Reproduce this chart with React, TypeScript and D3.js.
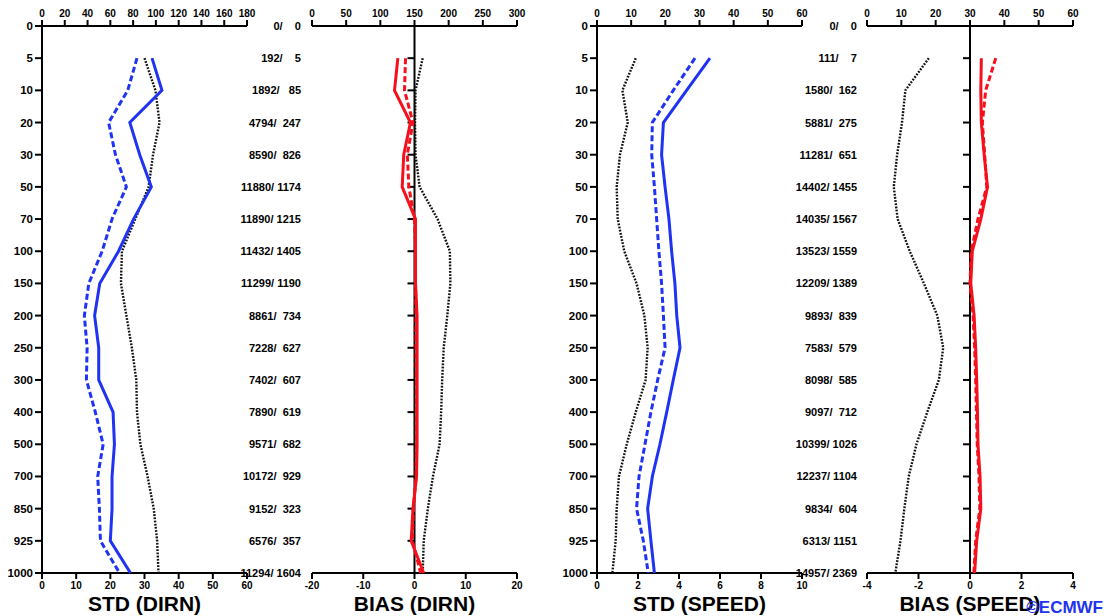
import React from "react";
import * as d3 from "d3";

// Pressure levels (hPa), evenly spaced on the vertical axis
const levels = ["0", "5", "10", "20", "30", "50", "70", "100", "150", "200", "250", "300", "400", "500", "700", "850", "925", "1000"];
const dataLevels = levels.slice(1);

// Direction statistics (degrees)
const stdDirnExp = [32.2, 35.1, 25.7, 28.6, 32.0, 26.8, 22.4, 16.9, 15.4, 16.6, 16.6, 20.8, 21.2, 20.5, 20.5, 20.0, 25.9];
const stdDirnCtl = [27.8, 25.1, 19.5, 21.5, 24.7, 20.5, 17.6, 13.7, 12.4, 13.2, 13.0, 15.6, 17.9, 16.3, 16.8, 17.1, 22.7];
const stdDirnRef = [30.0, 33.2, 34.4, 32.5, 31.2, 27.3, 23.4, 23.1, 24.7, 26.3, 27.6, 27.8, 28.8, 30.9, 32.7, 33.7, 34.1];
const biasDirnExp = [-3.25, -3.9, -0.8, -2.1, -2.4, 0.2, 0.2, 0.2, 0.5, 0.5, 0.5, 0.5, 0.5, 0.4, -0.3, -0.65, 1.8];
const biasDirnCtl = [-1.75, -1.95, -0.3, -1.4, -1.1, 0.0, 0.2, 0.2, 0.3, 0.3, 0.4, 0.4, 0.4, 0.3, -0.2, -0.4, 1.2];
const biasDirnRef = [1.6, 0.2, 0.1, 0.2, 1.0, 4.5, 6.9, 7.0, 6.4, 5.7, 5.4, 5.2, 4.9, 3.6, 2.6, 1.8, 1.6];

// Speed statistics (m/s)
const stdSpdExp = [5.51, 4.37, 3.24, 3.15, 3.32, 3.51, 3.64, 3.8, 3.89, 4.05, 3.72, 3.4, 3.07, 2.7, 2.47, 2.63, 2.8];
const stdSpdCtl = [4.78, 3.72, 2.7, 2.67, 2.8, 2.91, 3.02, 3.15, 3.24, 3.32, 2.96, 2.63, 2.34, 2.05, 1.93, 2.26, 2.5];
const stdSpdRef = [1.89, 1.24, 1.5, 1.12, 0.96, 1.01, 1.33, 1.93, 2.31, 2.47, 2.37, 1.89, 1.45, 1.07, 0.96, 0.91, 0.75];
const biasSpdExp = [0.44, 0.42, 0.44, 0.55, 0.68, 0.42, 0.09, 0.03, 0.16, 0.22, 0.26, 0.29, 0.31, 0.39, 0.42, 0.26, 0.18];
const biasSpdCtl = [1.0, 0.61, 0.48, 0.57, 0.65, 0.31, 0.05, 0.0, 0.12, 0.18, 0.22, 0.25, 0.28, 0.35, 0.38, 0.22, 0.15];
const biasSpdRef = [-1.6, -2.51, -2.64, -2.83, -2.96, -2.81, -2.34, -1.79, -1.27, -1.04, -1.21, -1.66, -2.08, -2.38, -2.55, -2.7, -2.9];

// Observation counts per level (total / used)
const obsDirn = [0, 192, 1892, 4794, 8590, 11880, 11890, 11432, 11299, 8861, 7228, 7402, 7890, 9571, 10172, 9152, 6576, 11294];
const usedDirn = [0, 5, 85, 247, 826, 1174, 1215, 1405, 1190, 734, 627, 607, 619, 682, 929, 323, 357, 1604];
const obsSpd = [0, 111, 1580, 5881, 11281, 14402, 14035, 13523, 12209, 9893, 7583, 8098, 9097, 10399, 12237, 9834, 6313, 14957];
const usedSpd = [0, 7, 162, 275, 651, 1455, 1567, 1559, 1389, 839, 579, 585, 712, 1026, 1104, 604, 1151, 2369];

// Tick labels
const topTicks1 = [0, 20, 40, 60, 80, 100, 120, 140, 160, 180];
const topTicks2 = [0, 50, 100, 150, 200, 250, 300];
const topTicks3 = [0, 10, 20, 30, 40, 50, 60];
const topTicks4 = [0, 10, 20, 30, 40, 50, 60];
const botTicks1 = [0, 10, 20, 30, 40, 50, 60];
const botTicks2 = [-20, -10, 0, 10, 20];
const botTicks3 = [0, 2, 4, 6, 8, 10];
const botTicks4 = [-4, -2, 0, 2, 4];

const titles = ["STD (DIRN)", "BIAS (DIRN)", "STD (SPEED)", "BIAS (SPEED)"];

const BLUE = "#1f33f2";
const RED = "#f5101c";
const FONT = "'Liberation Sans', Arial, sans-serif";

const Y_TOP = 26;
const Y_BOT = 573;

const y = d3.scalePoint<string>().domain(levels).range([Y_TOP, Y_BOT]);

type PanelDef = {
  x0: number;
  x1: number;
  top: d3.ScaleLinear<number, number>;
  bot: d3.ScaleLinear<number, number>;
  topTicks: number[];
  botTicks: number[];
  title: string;
  kind: "std" | "bias";
  exp: number[];
  ctl: number[];
  ref: number[];
};

function mkPanel(x0: number, x1: number, topDom: [number, number], botDom: [number, number], topTicks: number[], botTicks: number[], title: string, kind: "std" | "bias", exp: number[], ctl: number[], ref: number[]): PanelDef {
  return {
    x0, x1,
    top: d3.scaleLinear().domain(topDom).range([x0, x1]),
    bot: d3.scaleLinear().domain(botDom).range([x0, x1]),
    topTicks, botTicks, title, kind, exp, ctl, ref,
  };
}

const panels: PanelDef[] = [
  mkPanel(42, 247, [0, 180], [0, 60], topTicks1, botTicks1, titles[0], "std", stdDirnExp, stdDirnCtl, stdDirnRef),
  mkPanel(312, 517, [0, 300], [-20, 20], topTicks2, botTicks2, titles[1], "bias", biasDirnExp, biasDirnCtl, biasDirnRef),
  mkPanel(597, 802, [0, 60], [0, 10], topTicks3, botTicks3, titles[2], "std", stdSpdExp, stdSpdCtl, stdSpdRef),
  mkPanel(867, 1073, [0, 60], [-4, 4], topTicks4, botTicks4, titles[3], "bias", biasSpdExp, biasSpdCtl, biasSpdRef),
];

function fmtCount(a: number, b: number) {
  return `${a}/` + String(b).padStart(5, " ");
}

function Panel({ p }: { p: PanelDef }) {
  const line = d3
    .line<number>()
    .x((v) => p.bot(v))
    .y((_, i) => y(dataLevels[i]) as number);
  const axisX = p.kind === "std" ? p.x0 : p.bot(0);
  const tickLevels = p.kind === "std" ? levels : dataLevels;
  return (
    <g>
      {/* top axis */}
      <line x1={p.x0} x2={p.x1} y1={Y_TOP} y2={Y_TOP} stroke="#000" strokeWidth={2} />
      {p.topTicks.map((t) => (
        <g key={"tt" + t}>
          <line x1={p.top(t)} x2={p.top(t)} y1={Y_TOP} y2={Y_TOP - 6} stroke="#000" strokeWidth={2} />
          <text x={p.top(t)} y={17} textAnchor="middle" fontSize={10} fontWeight="bold" fontFamily={FONT}>{t}</text>
        </g>
      ))}
      {/* bottom axis */}
      <line x1={p.x0} x2={p.x1} y1={Y_BOT} y2={Y_BOT} stroke="#000" strokeWidth={2} />
      {p.botTicks.map((t) => (
        <g key={"bt" + t}>
          <line x1={p.bot(t)} x2={p.bot(t)} y1={Y_BOT} y2={Y_BOT + 6} stroke="#000" strokeWidth={2} />
          <text x={p.bot(t)} y={589} textAnchor="middle" fontSize={10} fontWeight="bold" fontFamily={FONT}>{t}</text>
        </g>
      ))}
      {/* vertical axis */}
      <line x1={axisX} x2={axisX} y1={Y_TOP} y2={Y_BOT} stroke="#000" strokeWidth={2} />
      {tickLevels.map((l) => (
        <line key={"yt" + l} x1={axisX - 7} x2={axisX} y1={y(l)} y2={y(l)} stroke="#000" strokeWidth={2} />
      ))}
      {p.kind === "std" &&
        levels.map((l) => (
          <text key={"yl" + l} x={axisX - 9} y={(y(l) as number) + 4} textAnchor="end" fontSize={11.5} fontWeight="bold" fontFamily={FONT}>{l}</text>
        ))}
      {/* series */}
      <path d={line(p.ref) || ""} fill="none" stroke="#111" strokeWidth={2.4} strokeDasharray="1.8,1.4" />
      <path d={line(p.ctl) || ""} fill="none" stroke={p.kind === "std" ? BLUE : RED} strokeWidth={3} strokeDasharray="6,3" />
      <path d={line(p.exp) || ""} fill="none" stroke={p.kind === "std" ? BLUE : RED} strokeWidth={3} />
      {/* title */}
      <text x={(p.x0 + p.x1) / 2} y={611} textAnchor="middle" fontSize={21} fontWeight="bold" fontFamily={FONT}>{p.title}</text>
    </g>
  );
}

export default function App() {
  return (
    <div style={{ position: "absolute", left: 0, top: 0, width: 1104, height: 616, background: "#fff" }}>
      <svg width={1104} height={616} style={{ display: "block" }}>
        <rect width={1104} height={616} fill="#fff" />
        {panels.map((p, i) => (
          <Panel key={i} p={p} />
        ))}
        {levels.map((l, i) => (
          <g key={"c" + l}>
            <text x={301} y={(y(l) as number) + 4} textAnchor="end" fontSize={11} fontWeight="bold" fontFamily={FONT} style={{ whiteSpace: "pre" }}>{fmtCount(obsDirn[i], usedDirn[i])}</text>
            <text x={857} y={(y(l) as number) + 4} textAnchor="end" fontSize={11} fontWeight="bold" fontFamily={FONT} style={{ whiteSpace: "pre" }}>{fmtCount(obsSpd[i], usedSpd[i])}</text>
          </g>
        ))}
        <text x={1103} y={613} textAnchor="end" fontSize={17} fontWeight="bold" fontFamily={FONT} fill="#2233ee">©ECMWF</text>
      </svg>
    </div>
  );
}
